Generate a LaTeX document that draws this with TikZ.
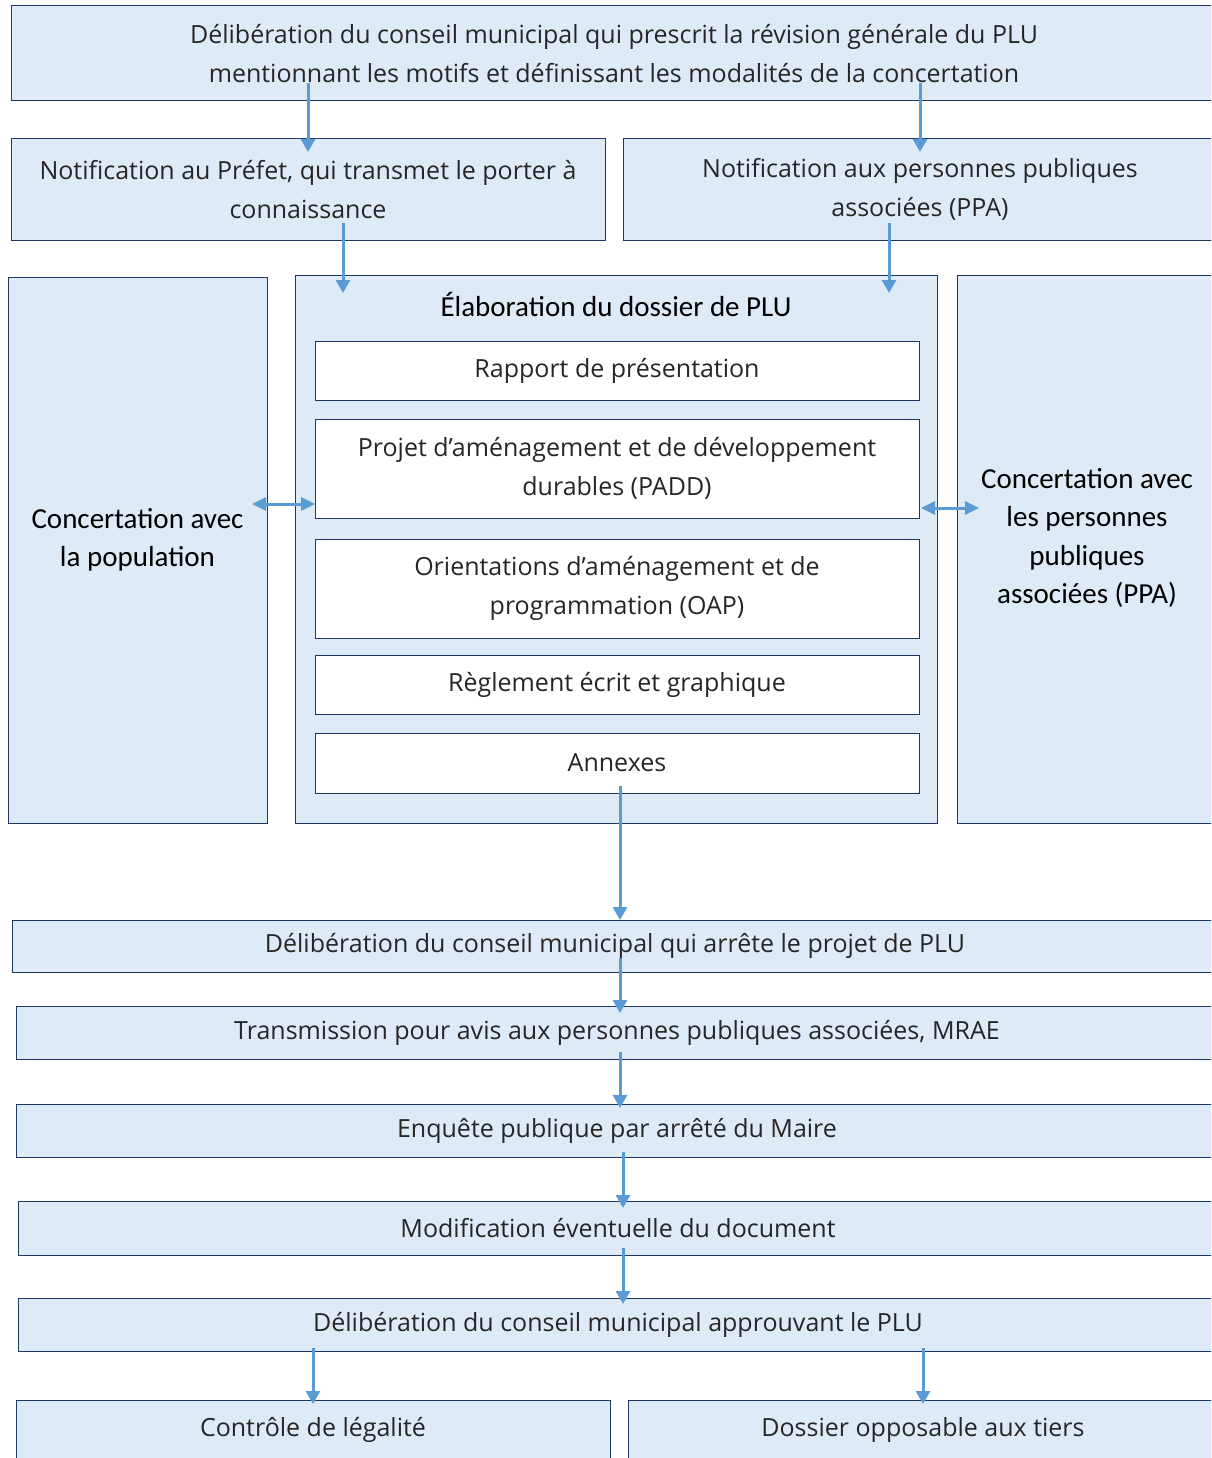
\documentclass[tikz,border=0pt]{standalone}
\usepackage{fontspec}
\setmainfont{Open Sans}
\newfontfamily\calib{Carlito}
\usetikzlibrary{arrows.meta}

\definecolor{boxfill}{HTML}{DEEAF6}
\definecolor{boxline}{HTML}{1F3864}
\definecolor{arrowblue}{HTML}{5B9BD5}
\definecolor{txtgray}{HTML}{262626}

\tikzset{
  box/.style={draw=boxline, line width=1pt, fill=boxfill, outer sep=0pt, inner sep=0pt,
    text=txtgray, align=center, font=\fontsize{25}{39}\selectfont},
  inbox/.style={box, fill=white},
  headtxt/.style={text=black, align=center, font=\calib\fontsize{29}{38.5}\selectfont},
  flow/.style={draw=arrowblue, line width=3pt, -{Triangle[length=13pt,width=14pt]}},
  biflow/.style={draw=arrowblue, line width=3pt, {Triangle[length=14pt,width=13pt]}-{Triangle[length=14pt,width=13pt]}}
}

\begin{document}
\begin{tikzpicture}[x=1pt,y=-1pt]
\useasboundingbox (0,0) rectangle (1211,1458);
\clip (0,0) rectangle (1211,1458);

% top of the procedure
\node[box, minimum width=1206pt, minimum height=95pt] (deli) at (614,53.5)
  {Délibération du conseil municipal qui prescrit la révision générale du PLU\\
   mentionnant les motifs et définissant les modalités de la concertation};
\node[box, minimum width=594pt, minimum height=101pt] (pref) at (308,189.5)
  {Notification au Préfet, qui transmet le porter à\\ connaissance};
\node[box, minimum width=594pt, minimum height=101pt] (ppan) at (920,189.5)
  {Notification aux personnes publiques\\ associées (PPA)};

% concertation and dossier
\node[box, minimum width=259pt, minimum height=546pt] (popbox) at (137.5,550) {};
\node[headtxt] at ([yshift=10pt]popbox.center) {Concertation avec\\ la population};
\node[box, minimum width=642pt, minimum height=548pt] (elab) at (616,549) {};
\node[headtxt] at ([yshift=-29pt]elab.north) {Élaboration du dossier de PLU};
\node[box, minimum width=260pt, minimum height=548pt] (ppabox) at (1087,549) {};
\node[headtxt] at ([yshift=11pt]ppabox.center)
  {Concertation avec\\ les personnes\\ publiques\\ associées (PPA)};

\node[inbox, minimum width=604pt, minimum height=59pt] (rapport) at (617,370.5) {Rapport de présentation};
\node[inbox, minimum width=604pt, minimum height=99pt] (padd) at (617,468.5)
  {Projet d’aménagement et de développement\\ durables (PADD)};
\node[inbox, minimum width=604pt, minimum height=99pt] (oap) at (617,588.5)
  {Orientations d’aménagement et de\\ programmation (OAP)};
\node[inbox, minimum width=604pt, minimum height=59pt] (regl) at (617,684.5) {Règlement écrit et graphique};
\node[inbox, minimum width=604pt, minimum height=60pt] (annex) at (617,763) {Annexes};

% after the dossier
\node[box, minimum width=1206pt, minimum height=52pt] (arret) at (615,946)
  {Délibération du conseil municipal qui arrête le projet de PLU};
\node[box, minimum width=1202pt, minimum height=53pt] (transm) at (617,1032.5)
  {Transmission pour avis aux personnes publiques associées, MRAE};
\node[box, minimum width=1202pt, minimum height=53pt] (enq) at (617,1130.5)
  {Enquête publique par arrêté du Maire};
\node[box, minimum width=1200pt, minimum height=54pt] (modif) at (618,1228)
  {Modification éventuelle du document};
\node[box, minimum width=1200pt, minimum height=53pt] (appr) at (618,1324.5)
  {Délibération du conseil municipal approuvant le PLU};
\node[box, minimum width=594pt, minimum height=60pt] (ctrl) at (313,1430) {Contrôle de légalité};
\node[box, minimum width=590pt, minimum height=60pt] (opp) at (923,1430) {Dossier opposable aux tiers};

% arrows
\coordinate (p1) at ([xshift=35pt]pref.south);
\coordinate (p2) at ([xshift=-31pt]ppan.south);
\coordinate (pa) at ([yshift=14pt]padd.south west);
\coordinate (pb) at ([yshift=10pt]padd.south east);
\coordinate (m1) at ([xshift=3pt]annex.south);
\coordinate (m2) at ([xshift=6pt]enq.south);

\draw[flow, shorten <=-18pt, shorten >=-13pt] (deli.south -| pref.north) -- (pref.north);
\draw[flow, shorten <=-18pt, shorten >=-13pt] (deli.south -| ppan.north) -- (ppan.north);
\draw[flow, shorten <=-17pt, shorten >=-18pt] (p1) -- (p1 |- elab.north);
\draw[flow, shorten <=-17pt, shorten >=-18pt] (p2) -- (p2 |- elab.north);
\draw[biflow, shorten >=-15pt] (pa) -- (pa -| popbox.east);
\draw[biflow, shorten <=2pt, shorten >=-22pt] (pb) -- (pb -| ppabox.west);
\draw[flow, shorten <=-7pt] (m1) -- (m1 |- arret.north);
\draw[flow, shorten <=-14pt, shorten >=-7pt] (m1 |- arret.south) -- (m1 |- transm.north);
\draw[flow, shorten <=-7pt, shorten >=-4pt] (m1 |- transm.south) -- (m1 |- enq.north);
\draw[flow, shorten <=-5pt, shorten >=-7pt] (m2) -- (m2 |- modif.north);
\draw[flow, shorten <=-7pt, shorten >=-6pt] (m2 |- modif.south) -- (m2 |- appr.north);
\draw[flow, shorten <=-3pt, shorten >=-4pt] (appr.south -| ctrl.north) -- (ctrl.north);
\draw[flow, shorten <=-3pt, shorten >=-4pt] (appr.south -| opp.north) -- (opp.north);
\end{tikzpicture}
\end{document}
